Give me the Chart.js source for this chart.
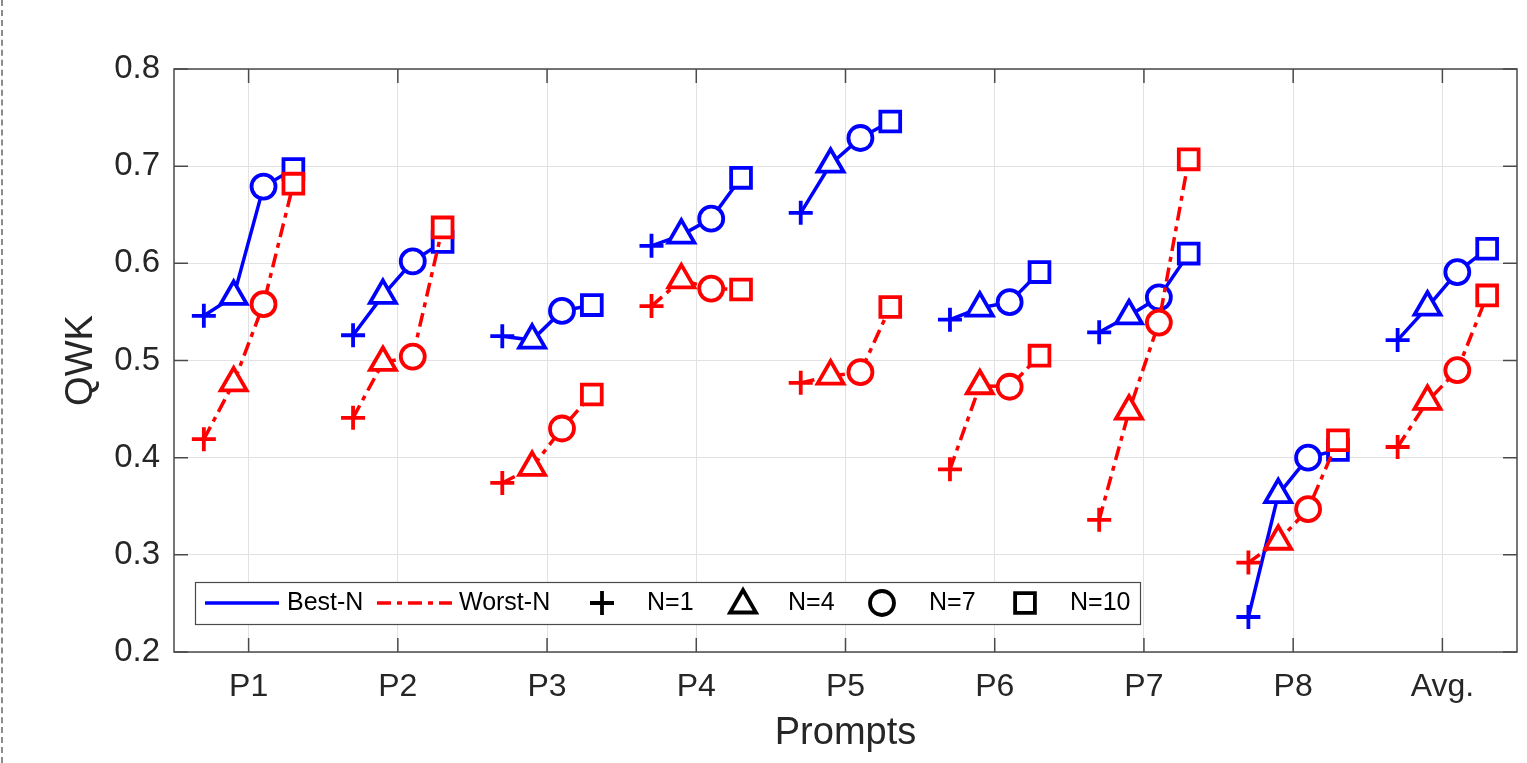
<!DOCTYPE html>
<html>
<head>
<meta charset="utf-8">
<script src="https://cdn.jsdelivr.net/npm/chart.js@4.4.1/dist/chart.umd.min.js"></script>
<style>
  html, body { margin: 0; padding: 0; background: #fff; }
  #wrap { position: relative; width: 1527px; height: 763px; }
  #edge { position: absolute; left: 1px; top: 0; bottom: 0; border-left: 2px dashed #8c8c8c; }
</style>
</head>
<body>
<div id="wrap">
  <canvas id="myChart" width="1527" height="763"></canvas>
  <div id="edge"></div>
</div>
<script>
// categories / ticks
const prompts = ["P1", "P2", "P3", "P4", "P5", "P6", "P7", "P8", "Avg."];
const nLabels = ["N=1", "N=4", "N=7", "N=10"];
const nOffsets = [-0.3, -0.1, 0.1, 0.3];
const yTicks = [0.2, 0.3, 0.4, 0.5, 0.6, 0.7, 0.8];

// Best-N, one array per N, values per prompt
const bestN1 = [0.546, 0.526, 0.525, 0.618, 0.652, 0.542, 0.529, 0.236, 0.521];
const bestN4 = [0.566, 0.567, 0.521, 0.629, 0.702, 0.554, 0.546, 0.362, 0.555];
const bestN7 = [0.679, 0.602, 0.551, 0.646, 0.729, 0.560, 0.565, 0.400, 0.591];
const bestN10 = [0.697, 0.622, 0.557, 0.688, 0.746, 0.591, 0.610, 0.408, 0.615];

// Worst-N
const worstN1 = [0.419, 0.441, 0.374, 0.556, 0.477, 0.388, 0.336, 0.292, 0.411];
const worstN4 = [0.477, 0.498, 0.390, 0.583, 0.484, 0.474, 0.448, 0.314, 0.458];
const worstN7 = [0.558, 0.504, 0.430, 0.574, 0.488, 0.473, 0.539, 0.347, 0.490];
const worstN10 = [0.682, 0.637, 0.465, 0.573, 0.555, 0.505, 0.707, 0.418, 0.567];

const FONT = "'Liberation Sans', Arial, Helvetica, sans-serif";
const TXT = "#262626";
const BLUE = "#0000ff";
const RED = "#ff0000";
const DASHDOT = [14, 6, 5, 6];

const markerStyles = ["cross", "triangle", "circle", "rect"];
const markerRadius = [12, 15, 12, 14];

const bestCols = [bestN1, bestN4, bestN7, bestN10];
const worstCols = [worstN1, worstN4, worstN7, worstN10];

function groupPoints(cols, p) {
  return cols.map((col, k) => ({ x: p + 1 + nOffsets[k], y: col[p] }));
}

function makeSet(label, pts, color, dash, order) {
  return {
    label: label,
    data: pts,
    showLine: true,
    borderColor: color,
    borderWidth: 3.5,
    borderDash: dash,
    pointStyle: markerStyles,
    pointRadius: markerRadius,
    pointBorderWidth: 3.8,
    pointBorderColor: color,
    pointBackgroundColor: "#ffffff",
    order: order,
  };
}

const datasets = [];
prompts.forEach((name, p) => {
  datasets.push(makeSet("Best-N", groupPoints(bestCols, p), BLUE, [], 1));
  datasets.push(makeSet("Worst-N", groupPoints(worstCols, p), RED, DASHDOT, 0));
});

// box + inward ticks like matlab
const axesBox = {
  id: "axesBox",
  beforeDatasetsDraw(chart) {
    const { ctx, chartArea: a, scales } = chart;
    const tl = 14;
    ctx.save();
    ctx.strokeStyle = "#4a4a4a";
    ctx.lineWidth = 1.5;
    ctx.strokeRect(a.left, a.top, a.right - a.left, a.bottom - a.top);
    ctx.beginPath();
    scales.x.ticks.forEach((t) => {
      const px = scales.x.getPixelForValue(t.value);
      ctx.moveTo(px, a.bottom); ctx.lineTo(px, a.bottom - tl);
      ctx.moveTo(px, a.top); ctx.lineTo(px, a.top + tl);
    });
    scales.y.ticks.forEach((t) => {
      const py = scales.y.getPixelForValue(t.value);
      ctx.moveTo(a.left, py); ctx.lineTo(a.left + tl, py);
      ctx.moveTo(a.right, py); ctx.lineTo(a.right - tl, py);
    });
    ctx.stroke();
    ctx.restore();
  },
};

function drawMarker(ctx, style, x, y, r) {
  ctx.beginPath();
  if (style === "cross") {
    ctx.moveTo(x, y - r); ctx.lineTo(x, y + r);
    ctx.moveTo(x - r, y); ctx.lineTo(x + r, y);
  } else if (style === "triangle") {
    for (let i = 0; i < 3; i++) {
      const ang = i * 2 * Math.PI / 3;
      const fx = x + Math.sin(ang) * r, fy = y - Math.cos(ang) * r;
      if (i === 0) ctx.moveTo(fx, fy); else ctx.lineTo(fx, fy);
    }
    ctx.closePath();
  } else if (style === "circle") {
    ctx.arc(x, y, r, 0, Math.PI * 2);
  } else {
    const s = r * Math.SQRT1_2;
    ctx.rect(x - s, y - s, 2 * s, 2 * s);
  }
  ctx.stroke();
}

// legend box inside the plot
const boxLegend = {
  id: "boxLegend",
  afterDraw(chart) {
    const ctx = chart.ctx;
    const cy = 603;
    ctx.save();
    ctx.fillStyle = "#fff";
    ctx.fillRect(195, 582, 945, 42);
    ctx.strokeStyle = "#4a4a4a";
    ctx.lineWidth = 1.2;
    ctx.strokeRect(195.5, 582.5, 945, 42);

    ctx.font = "25px " + FONT;
    ctx.fillStyle = "#000";
    ctx.textBaseline = "middle";
    ctx.textAlign = "left";

    ctx.lineWidth = 3.5;
    ctx.strokeStyle = BLUE;
    ctx.beginPath(); ctx.moveTo(205, cy); ctx.lineTo(279, cy); ctx.stroke();
    ctx.fillText("Best-N", 287, cy);

    ctx.strokeStyle = RED;
    ctx.setLineDash(DASHDOT);
    ctx.beginPath(); ctx.moveTo(377, cy); ctx.lineTo(452, cy); ctx.stroke();
    ctx.setLineDash([]);
    ctx.fillText("Worst-N", 459, cy);

    const mx = [602, 743, 882, 1025];
    const tx = [647, 788, 929, 1070];
    ctx.strokeStyle = "#000";
    ctx.lineWidth = 3.8;
    nLabels.forEach((lab, k) => {
      drawMarker(ctx, markerStyles[k], mx[k], k === 1 ? cy + 2 : cy, markerRadius[k]);
      ctx.fillText(lab, tx[k], cy);
    });
    ctx.restore();
  },
};

Chart.defaults.font.family = FONT;
Chart.defaults.color = TXT;

const config = {
  type: "scatter",
  data: { datasets: datasets },
  options: {
    responsive: false,
    animation: false,
    devicePixelRatio: 1,
    layout: { autoPadding: false, padding: { top: 69, right: 10, left: 0, bottom: 0 } },
    plugins: {
      legend: { display: false },
      tooltip: { enabled: false },
    },
    scales: {
      x: {
        type: "linear",
        min: 0.5,
        max: 9.5,
        afterBuildTicks: (s) => { s.ticks = prompts.map((_, i) => ({ value: i + 1 })); },
        afterFit: (s) => { s.height = 111; s.paddingLeft = 0; s.paddingRight = 0; },
        ticks: {
          callback: (v) => prompts[Math.round(v) - 1],
          font: { size: 32 },
          color: TXT,
          padding: 16,
          autoSkip: false,
          maxRotation: 0,
        },
        grid: { color: "#e2e2e2", drawTicks: false },
        border: { display: false },
        title: { display: true, text: "Prompts", font: { size: 38 }, color: TXT, padding: { top: 0, bottom: 7 } },
      },
      y: {
        min: 0.2,
        max: 0.8,
        afterBuildTicks: (s) => { s.ticks = yTicks.map((v) => ({ value: v })); },
        afterFit: (s) => { s.width = 174; },
        ticks: {
          callback: (v) => v.toFixed(1),
          font: { size: 33 },
          color: TXT,
          padding: 14,
        },
        grid: { color: "#e2e2e2", drawTicks: false },
        border: { display: false },
        title: { display: true, text: "QWK", font: { size: 38 }, color: TXT, padding: { top: 59, bottom: 0 } },
      },
    },
  },
  plugins: [axesBox, boxLegend],
};

const myChart = new Chart(document.getElementById("myChart"), config);
</script>
</body>
</html>
